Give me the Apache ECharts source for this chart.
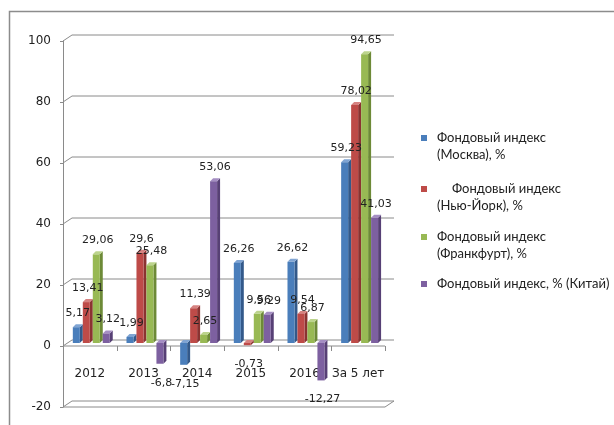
<!DOCTYPE html>
<html><head><meta charset="utf-8">
<script src="https://cdn.jsdelivr.net/npm/echarts@6/dist/echarts.min.js"></script>
<style>html,body{margin:0;padding:0;background:#fff}#c{width:614px;height:425px}</style>
</head><body><div id="c"></div>
<script>
const categories = ['2012', '2013', '2014', '2015', '2016', 'За 5 лет'];
const moscow = [5.17, 1.99, -7.15, 26.26, 26.62, 59.23];
const newYork = [13.41, 29.6, 11.39, -0.73, 9.54, 78.02];
const frankfurt = [29.06, 25.48, 2.65, 9.56, 6.87, 94.65];
const china = [3.12, -6.8, 53.06, 9.29, -12.27, 41.03];
const yTicks = [-20, 0, 20, 40, 60, 80, 100];
const legendLines = [
  ['Фондовый индекс', '(Москва), %'],
  ['Фондовый индекс', '(Нью-Йорк), %'],
  ['Фондовый индекс', '(Франкфурт), %'],
  ['Фондовый индекс, % (Китай)']
];
const seriesList = [moscow, newYork, frankfurt, china];
const palette = [
  {front: '#4A7EBB', side: '#33598A', top: '#7FA4D3'},
  {front: '#BE4B48', side: '#8B3331', top: '#D68280'},
  {front: '#98B954', side: '#6D8A37', top: '#BCD48C'},
  {front: '#7D60A0', side: '#574075', top: '#A58EC3'}
];
const gridColor = '#8a8a8a';
const textColor = '#222';
const labelFont = '11px "DejaVu Sans"';

function fmt(v) { return String(v).replace('.', ','); }

function barRenderer(k) {
  return function (params, api) {
    const idx = api.value(0), v = api.value(1);
    const p = api.coord([idx, v]);
    const z = api.coord([idx, 0]);
    const band = api.size([1, 0])[0];
    const slot = band * 0.186;
    const w = slot * 0.7, d = slot * 0.3;
    const sh = 3;
    const x0 = p[0] - band * 0.317 + k * slot;
    const top = Math.min(p[1], z[1]) - sh;
    const bot = Math.max(p[1], z[1]) - sh;
    const c = palette[k];
    const cx = x0 + (w + d) / 2;
    return {
      type: 'group',
      children: [
        {type: 'polygon', shape: {points: [[x0 + w, top], [x0 + w + d, top - d], [x0 + w + d, bot - d], [x0 + w, bot]]}, style: {fill: c.side}},
        {type: 'polygon', shape: {points: [[x0, top], [x0 + d, top - d], [x0 + w + d, top - d], [x0 + w, top]]}, style: {fill: c.top}},
        {type: 'rect', shape: {x: x0, y: top, width: w, height: bot - top}, style: {fill: c.front}},
        {type: 'text', z2: 100, style: {text: fmt(v), x: cx, y: v >= 0 ? top - 14 : bot + 19,
          textAlign: 'center', textVerticalAlign: 'middle', align: 'center', verticalAlign: 'middle',
          font: labelFont, fill: textColor}}
      ]
    };
  };
}

function wallRenderer(params, api) {
  const cs = params.coordSys;
  const v = api.value(1);
  const y = api.coord([0, v])[1];
  const dx = 9, dy = 6;
  const ls = {stroke: gridColor, lineWidth: 1};
  const children = [
    {type: 'line', shape: {x1: cs.x, y1: y, x2: cs.x + dx, y2: y - dy}, style: ls},
    {type: 'line', shape: {x1: cs.x + dx, y1: y - dy, x2: cs.x + cs.width + dx, y2: y - dy}, style: ls}
  ];
  if (v === yTicks[0]) {
    children.push({type: 'line', shape: {x1: cs.x, y1: y, x2: cs.x + cs.width, y2: y}, style: ls});
    children.push({type: 'line', shape: {x1: cs.x + cs.width, y1: y, x2: cs.x + cs.width + dx, y2: y - dy}, style: ls});
  }
  if (v === 0) {
    children.push({type: 'line', shape: {x1: cs.x, y1: y, x2: cs.x + cs.width, y2: y}, style: ls});
    const band = cs.width / categories.length;
    for (let i = 1; i <= categories.length; i++) {
      const tx = Math.round(cs.x + i * band) + 0.5;
      children.push({type: 'line', shape: {x1: tx, y1: y, x2: tx, y2: y + 5}, style: ls});
    }
  }
  return {type: 'group', children: children};
}

const chart = echarts.init(document.getElementById('c'));
const series = [{
  type: 'custom', z: 1, silent: true,
  data: yTicks.map(v => [0, v]),
  renderItem: wallRenderer
}];
seriesList.forEach((arr, k) => {
  series.push({
    type: 'custom', z: 2,
    data: arr.map((v, i) => [i, v]),
    renderItem: barRenderer(k)
  });
});

const graphic = [{
  type: 'rect', shape: {x: 9.5, y: 11.5, width: 700, height: 500},
  style: {fill: 'none', stroke: '#8c8c8c', lineWidth: 1.5}, silent: true
}];
const legendY = [138, 189, 237, 284];
legendLines.forEach((lines, k) => {
  graphic.push({type: 'rect', shape: {x: 421, y: legendY[k] - 3, width: 6, height: 6}, style: {fill: palette[k].front}});
  lines.forEach((t, j) => {
    graphic.push({type: 'text', style: {text: t, x: (k === 1 && j === 0) ? 452 : 437, y: legendY[k] + j * 17,
      textVerticalAlign: 'middle', verticalAlign: 'middle', font: '13px Lato', fill: textColor}});
  });
});

chart.setOption({
  animation: false,
  grid: {left: 63, right: 229, top: 41, bottom: 18, containLabel: false, outerBoundsMode: 'none'},
  xAxis: {
    type: 'category', data: categories,
    axisLine: {show: false, onZero: false},
    axisTick: {show: false},
    axisLabel: {interval: 0, margin: -39, fontSize: 12, fontFamily: 'DejaVu Sans', color: textColor}
  },
  yAxis: {
    type: 'value', min: -20, max: 100, interval: 20,
    axisLine: {show: true, lineStyle: {color: gridColor, width: 1}},
    axisTick: {show: true, length: 3, lineStyle: {color: gridColor}},
    splitLine: {show: false},
    axisLabel: {margin: 12, fontSize: 12, fontFamily: 'DejaVu Sans', color: textColor}
  },
  series: series,
  graphic: graphic
});
</script></body></html>
